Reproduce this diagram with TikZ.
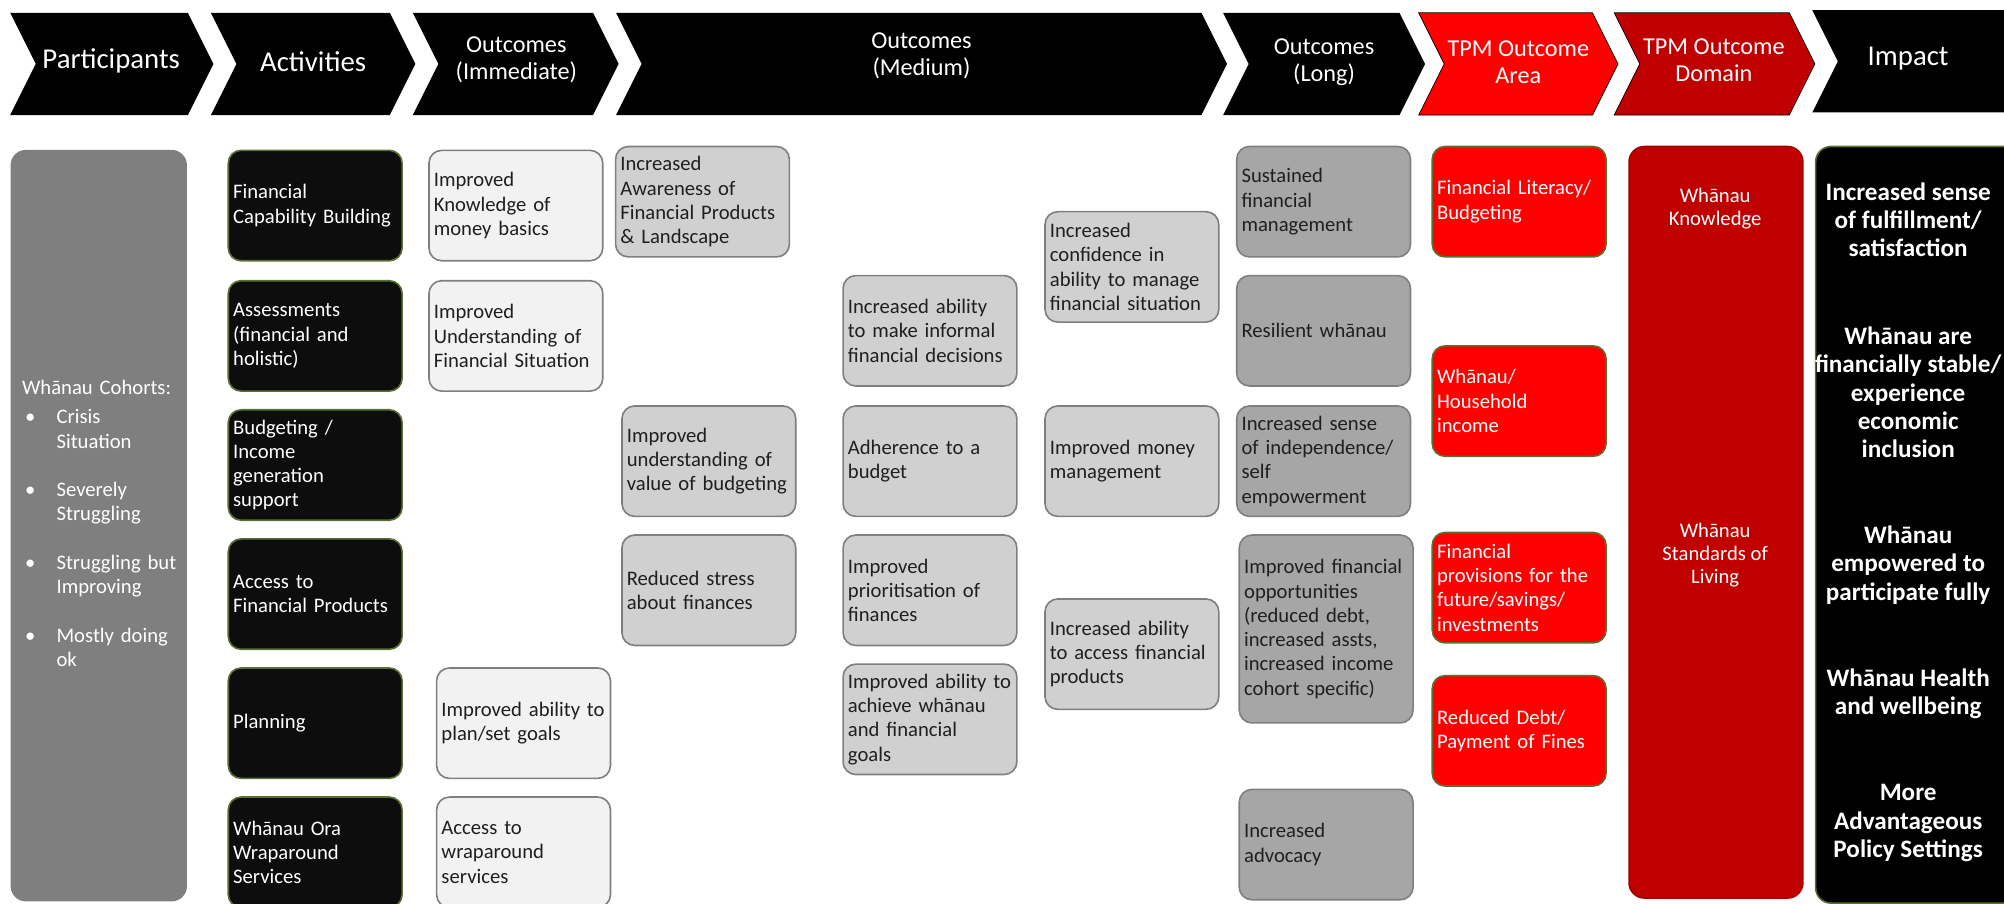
\documentclass[tikz,border=0pt]{standalone}
\usepackage{fontspec}
\setmainfont{Carlito}
\usepackage{xcolor}
\usepackage{tikz}
\definecolor{olivebd}{HTML}{5A7030}
\definecolor{actfill}{HTML}{0D0D0D}
\definecolor{cohortgrey}{HTML}{7F7F7F}
\definecolor{immfill}{HTML}{F2F2F2}
\definecolor{medfill}{HTML}{D0D0D0}
\definecolor{longfill}{HTML}{A6A6A6}
\definecolor{boxline}{HTML}{7F7F7F}
\definecolor{tpmred}{HTML}{FF0000}
\definecolor{tpmdark}{HTML}{C00000}
\definecolor{txtdark}{HTML}{1F1F1F}
\tikzstyle{outbox} = [rectangle, rounded corners=2.5mm, anchor=north west, text width=32.1mm, inner xsep=0.95mm, minimum height=21.6mm, align=left, line width=0.9pt, font=\fontsize{11.5}{13.5}\selectfont]
\tikzstyle{activity} = [outbox, draw=olivebd, fill=actfill, text=white]
\tikzstyle{immediate} = [outbox, draw=boxline, fill=immfill, text=txtdark]
\tikzstyle{medterm} = [outbox, draw=boxline, fill=medfill, text=txtdark]
\tikzstyle{longterm} = [outbox, draw=boxline, fill=longfill, text=txtdark]
\tikzstyle{tpmarea} = [outbox, draw=olivebd, fill=tpmred, text=white]
\tikzstyle{cohort} = [rectangle, rounded corners=3mm, anchor=north west, fill=cohortgrey, text=white, text width=30mm, inner xsep=2.25mm, minimum height=147mm, align=left, font=\fontsize{11.5}{13.5}\selectfont]
\tikzstyle{tpmdomain} = [rectangle, rounded corners=3mm, anchor=north west, draw=tpmdark!85!black, line width=0.9pt, fill=tpmdark, minimum width=34mm, minimum height=147mm]
\tikzstyle{impactbox} = [rectangle, rounded corners=3mm, anchor=north west, draw=olivebd, line width=0.9pt, fill=black, minimum width=40mm, minimum height=148mm]
\tikzstyle{headbig} = [text=white, font=\fontsize{16}{18}\selectfont]
\tikzstyle{headtext} = [text=white, align=center, font=\fontsize{13.5}{15}\selectfont]
\tikzstyle{domaintext} = [text=white, align=center, font=\fontsize{11.5}{12.8}\selectfont]
\tikzstyle{impacttext} = [text=white, align=center, font=\bfseries\fontsize{14}{15.8}\selectfont]

\begin{document}
\begin{tikzpicture}[x=0.25mm, y=-0.25mm]
\useasboundingbox (0,0) rectangle (1568,707);

\fill[black] (8,10) -- (147,10) -- (167,50) -- (147,90) -- (8,90) -- (28,50) -- cycle;
\fill[black] (165,10) -- (305,10) -- (325,50) -- (305,90) -- (165,90) -- (185,50) -- cycle;
\fill[black] (323,10) -- (464,10) -- (484,50) -- (464,90) -- (323,90) -- (343,50) -- cycle;
\fill[black] (482,10) -- (940,10) -- (960,50) -- (940,90) -- (482,90) -- (502,50) -- cycle;
\fill[black] (957,10) -- (1095,10) -- (1115,50) -- (1095,90) -- (957,90) -- (977,50) -- cycle;
\filldraw[fill=tpmred, draw=black] (1110,10) -- (1246,10) -- (1266,50) -- (1246,90) -- (1110,90) -- (1130,50) -- cycle;
\filldraw[fill=tpmdark, draw=black] (1263,10) -- (1400,10) -- (1420,50) -- (1400,90) -- (1263,90) -- (1283,50) -- cycle;
\fill[black] (1418,8) -- (1570,8) -- (1570,88) -- (1418,88) -- (1438,48) -- cycle;

\node (hPart) [headbig] at (87,48) {Participants};
\node (hAct) [headbig] at (245,48) {Activities};
\node (hImm) [headtext] at (404,47) {Outcomes\\(Immediate)};
\node (hMed) [headtext] at (721,44) {Outcomes\\(Medium)};
\node (hLong) [headtext] at (1036,49) {Outcomes\\(Long)};
\node (hArea) [headtext] at (1188,49) {TPM Outcome\\Area};
\node (hDom) [headtext] at (1341,47) {TPM Outcome\\Domain};
\node (hImp) [headbig] at (1493,46) {Impact};

\node (cohorts) [cohort] at (8,117) {\begin{tabular}{@{}p{6.75mm}@{}l@{}}
\multicolumn{2}{@{}l@{}}{Whānau Cohorts:}\\[1mm]
\hspace*{0.6mm}\textbullet & Crisis\\
 & Situation\\[4.75mm]
\hspace*{0.6mm}\textbullet & Severely\\
 & Struggling\\[4.75mm]
\hspace*{0.6mm}\textbullet & Struggling but\\
 & Improving\\[4.75mm]
\hspace*{0.6mm}\textbullet & Mostly doing\\
 & ok
\end{tabular}};

\node (actFin) [activity] at (178,117) {Financial\\Capability Building};
\node (actAssess) [activity] at (178,219) {Assessments\\(financial and\\holistic)};
\node (actBudget) [activity] at (178,320) {Budgeting /\\Income\\generation\\support};
\node (actAccess) [activity] at (178,421) {Access to\\Financial Products};
\node (actPlan) [activity] at (178,522) {Planning};
\node (actOra) [activity] at (178,623) {Whānau Ora\\Wraparound\\Services};

\node (immKnow) [immediate] at (335,117) {Improved\\Knowledge of\\money basics};
\node (immUnder) [immediate] at (335,219) {Improved\\Understanding of\\Financial Situation};
\node (immGoals) [immediate] at (341,522) {Improved ability to\\plan/set goals};
\node (immWrap) [immediate] at (341,623) {Access to\\wraparound\\services};

\node (medAware) [medterm] at (481,114) {Increased\\Awareness of\\Financial Products\\\& Landscape};
\node (medValue) [medterm] at (486,317) {Improved\\understanding of\\value of budgeting};
\node (medStress) [medterm] at (486,418) {Reduced stress\\about finances};
\node (medInformal) [medterm] at (659,215) {Increased ability\\to make informal\\financial decisions};
\node (medAdhere) [medterm] at (659,317) {Adherence to a\\budget};
\node (medPrior) [medterm] at (659,418) {Improved\\prioritisation of\\finances};
\node (medAchieve) [medterm] at (659,519) {Improved ability to\\achieve whānau\\and financial\\goals};
\node (medConf) [medterm] at (817,165) {Increased\\confidence in\\ability to manage\\financial situation};
\node (medMoney) [medterm] at (817,317) {Improved money\\management};
\node (medAccess) [medterm] at (817,468) {Increased ability\\to access financial\\products};

\node (lngSustain) [longterm] at (967,114) {Sustained\\financial\\management};
\node (lngResil) [longterm] at (967,215) {Resilient whānau};
\node (lngIndep) [longterm] at (967,317) {Increased sense\\of independence/\\self\\empowerment};
\node (lngOpp) [longterm, minimum height=36.75mm] at (969,418) {Improved financial\\opportunities\\(reduced debt,\\increased assts,\\increased income\\cohort specific)};
\node (lngAdv) [longterm] at (969,617) {Increased\\advocacy};

\node (areaLit) [tpmarea] at (1120,114) {Financial Literacy/\\Budgeting};
\node (areaInc) [tpmarea] at (1120,270) {Whānau/\\Household\\income};
\node (areaProv) [tpmarea] at (1120,416) {Financial\\provisions for the\\future/savings/\\investments};
\node (areaDebt) [tpmarea] at (1120,528) {Reduced Debt/\\Payment of Fines};

\node (dom) [tpmdomain] at (1274,114) {};
\node (domKnow) [domaintext] at (1342,163) {Whānau\\Knowledge};
\node (domLiving) [domaintext] at (1342,434) {Whānau\\Standards of\\Living};

\node (imp) [impactbox] at (1420,114) {};
\node (impFulfil) [impacttext] at (1493,172) {Increased sense\\of fulfillment/\\satisfaction};
\node (impStable) [impacttext] at (1493,307) {Whānau are\\financially stable/\\experience\\economic\\inclusion};
\node (impPart) [impacttext] at (1493,442) {Whānau\\empowered to\\participate fully};
\node (impHealth) [impacttext] at (1493,543) {Whānau Health\\and wellbeing};
\node (impPolicy) [impacttext] at (1493,644) {More\\Advantageous\\Policy Settings};
\end{tikzpicture}
\end{document}
